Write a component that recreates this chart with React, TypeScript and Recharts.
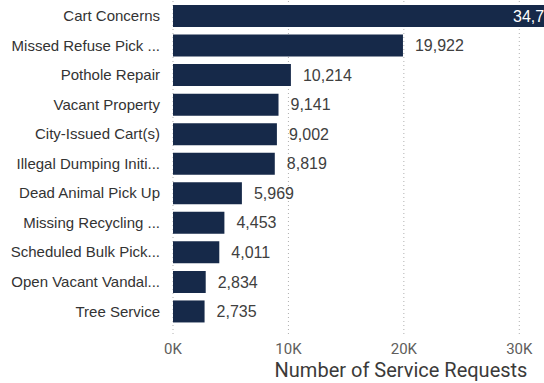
import { BarChart, Bar, XAxis, YAxis, CartesianGrid, LabelList } from 'recharts'

const categories = [
  'Cart Concerns',
  'Missed Refuse Pick ...',
  'Pothole Repair',
  'Vacant Property',
  'City-Issued Cart(s)',
  'Illegal Dumping Initi...',
  'Dead Animal Pick Up',
  'Missing Recycling ...',
  'Scheduled Bulk Pick...',
  'Open Vacant Vandal...',
  'Tree Service',
]
const requests = [34736, 19922, 10214, 9141, 9002, 8819, 5969, 4453, 4011, 2834, 2735]
const xTicks = [0, 10000, 20000, 30000]

const data = categories.map((name, i) => ({ name, value: requests[i] }))

const barColor = '#162949'
const fmt = (v: number) => v.toLocaleString('en-US')

function ValueLabel(props: any) {
  const { x, y, width, height, value } = props
  const inside = value > 30000
  const cy = y + height / 2
  if (inside) {
    return (
      <text x={x + width - 12} y={cy} dy="0.35em" textAnchor="end" fill="#ffffff"
        fontSize={16} fontFamily="'Liberation Sans', Arial, sans-serif">
        {fmt(value)}
      </text>
    )
  }
  return (
    <text x={x + width + 12} y={cy} dy="0.35em" textAnchor="start" fill="#404040"
      fontSize={16} fontFamily="'Liberation Sans', Arial, sans-serif">
      {fmt(value)}
    </text>
  )
}

export default function App() {
  return (
    <div style={{ position: 'fixed', left: 0, top: 0, width: 544, height: 383, overflow: 'hidden', background: '#fff' }}>
      <BarChart width={600} height={383} data={data} layout="vertical"
        margin={{ top: 1, right: 23, left: 0, bottom: 0 }}>
        <CartesianGrid horizontal={false} stroke="#b0b0b0" strokeDasharray="1 3" />
        <XAxis type="number" domain={[0, 35000]} ticks={xTicks} allowDataOverflow
          tickFormatter={(v) => `${v / 1000}K`} axisLine={false} tickLine={false}
          tickSize={0} tickMargin={8} height={48}
          tick={{ fill: '#605E5C', fontSize: 15, fontFamily: 'Roboto, sans-serif' }}
          label={{ value: 'Number of Service Requests', position: 'insideBottom', offset: 6, dx: 26,
            fill: '#3b3a39', fontSize: 20, fontFamily: 'Roboto, sans-serif' }} />
        <YAxis type="category" dataKey="name" width={173} axisLine={false} tickLine={false}
          tickSize={0} tickMargin={13} interval={0} padding={{ top: 0, bottom: 9 }}
          tick={{ fill: '#333333', fontSize: 15, fontFamily: "'Liberation Sans', Arial, sans-serif" }} />
        <Bar dataKey="value" fill={barColor} barSize={22} isAnimationActive={false}>
          <LabelList dataKey="value" content={ValueLabel} />
        </Bar>
      </BarChart>
    </div>
  )
}
